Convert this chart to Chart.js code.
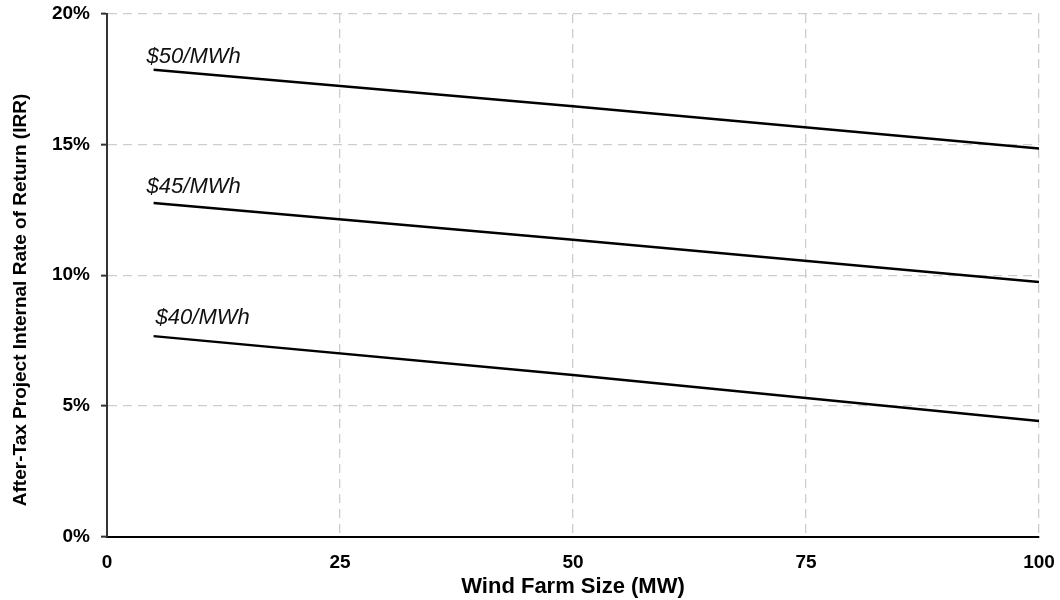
<!DOCTYPE html>
<html>
<head>
<meta charset="utf-8">
<script src="https://cdn.jsdelivr.net/npm/chart.js@4/dist/chart.umd.min.js"></script>
<style>
  html, body { margin: 0; padding: 0; background: #fff; }
  #wrap { width: 1060px; height: 600px; position: relative; }
</style>
</head>
<body>
<div id="wrap"><canvas id="c" width="1060" height="600"></canvas></div>
<script>
// ---- data ----
const windFarmSizes = [5, 50, 100];           // MW
const irr50 = [17.87, 16.47, 14.85];          // $50/MWh, %
const irr45 = [12.77, 11.36, 9.74];           // $45/MWh, %
const irr40 = [7.67, 6.18, 4.42];             // $40/MWh, %
const seriesLabels = ['$50/MWh', '$45/MWh', '$40/MWh'];
const xTicks = [0, 25, 50, 75, 100];
const yTicks = [0, 5, 10, 15, 20];
const xTitle = 'Wind Farm Size (MW)';
const yTitle = 'After-Tax Project Internal Rate of Return (IRR)';

const FONT = "'Liberation Sans', Arial, Helvetica, sans-serif";

const toPts = arr => windFarmSizes.map((x, i) => ({ x: x, y: arr[i] }));

// label offsets relative to the first point of each line (px)
const labelOffsets = [{dx: -7, dy: -7}, {dx: -7, dy: -10}, {dx: 2, dy: -12}];

const lineLabels = {
  id: 'lineLabels',
  afterDatasetsDraw(chart) {
    const ctx = chart.ctx;
    ctx.save();
    ctx.font = "italic 22px " + FONT;
    ctx.fillStyle = '#111';
    ctx.textAlign = 'left';
    ctx.textBaseline = 'alphabetic';
    chart.data.datasets.forEach((ds, i) => {
      const meta = chart.getDatasetMeta(i);
      const p = meta.data[0];
      const o = labelOffsets[i];
      ctx.fillText(ds.label, p.x + o.dx, p.y + o.dy);
    });
    // y axis title, centred on the canvas height
    ctx.font = "bold 19px " + FONT;
    ctx.fillStyle = '#000';
    ctx.textAlign = 'center';
    ctx.textBaseline = 'middle';
    ctx.translate(21, chart.height / 2);
    ctx.rotate(-Math.PI / 2);
    ctx.fillText(yTitle, 0, 0);
    ctx.restore();
  }
};

const datasets = [irr50, irr45, irr40].map((arr, i) => ({
  label: seriesLabels[i],
  data: toPts(arr),
  borderColor: '#000',
  borderWidth: 2.5,
  pointRadius: 0,
  tension: 0,
  fill: false
}));

new Chart(document.getElementById('c'), {
  type: 'line',
  data: { datasets },
  options: {
    responsive: false,
    animation: false,
    layout: { padding: { top: 14, right: 21, bottom: 0, left: 0 } },
    plugins: { legend: { display: false }, tooltip: { enabled: false } },
    scales: {
      x: {
        type: 'linear',
        min: 0, max: 100,
        afterBuildTicks: s => { s.ticks = xTicks.map(v => ({ value: v })); },
        ticks: {
          font: { family: FONT, size: 19, weight: 'bold' },
          color: '#000',
          padding: 15,
          maxRotation: 0
        },
        grid: {
          color: '#cdcdcd',
          lineWidth: 1.3,
          drawTicks: false
        },
        border: { display: true, color: '#000', width: 2, dash: [9, 6] },
        title: {
          display: true,
          text: xTitle,
          font: { family: FONT, size: 22, weight: 'bold' },
          color: '#000',
          padding: { top: 0, bottom: 0 }
        },
        afterFit: s => {
          s.height = 63.5;
          s.paddingLeft = 0; s.paddingRight = 0;
        }
      },
      y: {
        min: 0, max: 20,
        afterBuildTicks: s => { s.ticks = yTicks.map(v => ({ value: v })); },
        ticks: {
          font: { family: FONT, size: 19, weight: 'bold' },
          color: '#000',
          padding: 11,
          callback: v => v + '%'
        },
        grid: {
          color: '#cdcdcd',
          lineWidth: 1.3,
          drawTicks: true,
          tickLength: 6,
          tickColor: '#333',
          tickWidth: 2,
          tickBorderDash: []
        },
        border: { display: true, color: '#333', width: 2, dash: [9, 6] },
        title: { display: false },
        afterFit: s => {
          s.width = 107;
          s.paddingTop = 0; s.paddingBottom = 0;
        }
      }
    }
  },
  plugins: [lineLabels]
});
</script>
</body>
</html>
